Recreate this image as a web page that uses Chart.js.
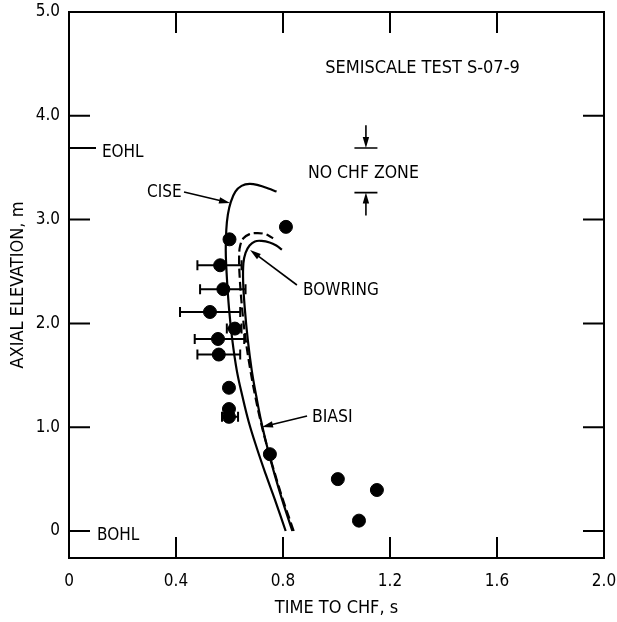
<!DOCTYPE html>
<html><head><meta charset="utf-8">
<script src="https://cdn.jsdelivr.net/npm/chart.js@4/dist/chart.umd.min.js"></script>
<style>html,body{margin:0;padding:0;background:#fff;}canvas{display:block;}</style>
</head><body>
<canvas id="c" width="617" height="622"></canvas>
<script>
// ---- data ----
const xTickValues = [0, 0.4, 0.8, 1.2, 1.6, 2.0];
const xTickLabels = ['0', '0.4', '0.8', '1.2', '1.6', '2.0'];
const yTickValues = [0, 1, 2, 3, 4, 5];
const yTickLabels = ['0', '1.0', '2.0', '3.0', '4.0', '5.0'];

const measuredTime = [0.600, 0.811, 0.565, 0.577, 0.527, 0.620, 0.557, 0.560, 0.598, 0.598, 0.598, 0.751, 1.005, 1.151, 1.084];
const measuredElev = [2.81, 2.93, 2.56, 2.33, 2.11, 1.95, 1.85, 1.70, 1.38, 1.175, 1.10, 0.74, 0.50, 0.395, 0.10];
const errLow  = [null, null, 0.48, 0.49, 0.415, 0.59, 0.47, 0.48, null, null, 0.572, null, null, null, null];
const errHigh = [null, null, 0.645, 0.66, 0.64, 0.645, 0.655, 0.64, null, null, 0.632, null, null, null, null];

const ciseTime = [0.810, 0.770, 0.735, 0.702, 0.672, 0.648, 0.627, 0.610, 0.598, 0.590, 0.586, 0.588, 0.594, 0.605, 0.622, 0.645, 0.675, 0.710, 0.745, 0.776];
const ciseElev = [0.00, 0.30, 0.55, 0.80, 1.05, 1.30, 1.55, 1.85, 2.15, 2.45, 2.70, 2.90, 3.05, 3.17, 3.27, 3.325, 3.345, 3.33, 3.30, 3.27];

const bowringTime = [0.835, 0.797, 0.768, 0.742, 0.719, 0.700, 0.683, 0.668, 0.657, 0.651, 0.652, 0.660, 0.675, 0.695, 0.720, 0.750, 0.775, 0.796];
const bowringElev = [0.00, 0.30, 0.55, 0.80, 1.05, 1.30, 1.55, 1.85, 2.15, 2.40, 2.58, 2.68, 2.75, 2.79, 2.795, 2.78, 2.75, 2.71];

const biasiTime = [0.840, 0.800, 0.770, 0.742, 0.717, 0.696, 0.678, 0.660, 0.647, 0.638, 0.636, 0.640, 0.652, 0.675, 0.700, 0.727, 0.747, 0.763];
const biasiElev = [0.00, 0.30, 0.55, 0.80, 1.05, 1.30, 1.55, 1.85, 2.15, 2.45, 2.65, 2.75, 2.82, 2.86, 2.87, 2.865, 2.845, 2.82];

const eohlElev = 3.69;

// ---- annotation layout (data coordinates) ----
const FONT = "'DejaVu Sans Condensed', 'DejaVu Sans', sans-serif";
const labels = [
  {text: 'SEMISCALE TEST S-07-9', x: 1.3215, y: 4.46, align: 'center', size: 18},
  {text: 'EOHL', x: 0.123, y: 3.65, align: 'left', size: 17},
  {text: 'BOHL', x: 0.105, y: -0.04, align: 'left', size: 17},
  {text: 'CISE', x: 0.292, y: 3.26, align: 'left', size: 17},
  {text: 'NO CHF ZONE', x: 0.893, y: 3.44, align: 'left', size: 17.5},
  {text: 'BOWRING', x: 0.875, y: 2.32, align: 'left', size: 17},
  {text: 'BIASI', x: 0.908, y: 1.098, align: 'left', size: 17.5}
];
const arrows = [
  {x1: 0.43, y1: 3.266, x2: 0.602, y2: 3.16},
  {x1: 0.852, y1: 2.37, x2: 0.677, y2: 2.707},
  {x1: 0.89, y1: 1.108, x2: 0.7215, y2: 1.002}
];
const zoneX = 1.11, zoneTop = 3.69, zoneBottom = 3.26, zoneStem = 0.22, zoneBarHalf = 0.043;

function drawArrow(ctx, x1, y1, x2, y2) {
  const a = Math.atan2(y2 - y1, x2 - x1);
  const L = 11, W = 3.2;
  ctx.beginPath(); ctx.moveTo(x1, y1); ctx.lineTo(x2 - Math.cos(a) * 4, y2 - Math.sin(a) * 4); ctx.stroke();
  ctx.beginPath();
  ctx.moveTo(x2, y2);
  ctx.lineTo(x2 - L * Math.cos(a) + W * Math.sin(a), y2 - L * Math.sin(a) - W * Math.cos(a));
  ctx.lineTo(x2 - L * Math.cos(a) - W * Math.sin(a), y2 - L * Math.sin(a) + W * Math.cos(a));
  ctx.closePath(); ctx.fill();
}

const decor = {
  id: 'decor',
  beforeDatasetsDraw(chart) {
    const {ctx, scales: {x, y}} = chart;
    ctx.save();
    ctx.strokeStyle = '#000'; ctx.lineWidth = 2;
    for (let i = 0; i < measuredTime.length; i++) {
      if (errLow[i] == null) continue;
      const py = y.getPixelForValue(measuredElev[i]);
      const a = x.getPixelForValue(errLow[i]), b = x.getPixelForValue(errHigh[i]);
      ctx.beginPath();
      ctx.moveTo(a, py); ctx.lineTo(b, py);
      ctx.moveTo(a, py - 5); ctx.lineTo(a, py + 5);
      ctx.moveTo(b, py - 5); ctx.lineTo(b, py + 5);
      ctx.stroke();
    }
    ctx.restore();
  },
  afterDraw(chart) {
    const {ctx, chartArea: ca, scales: {x, y}} = chart;
    ctx.save();
    ctx.strokeStyle = '#000'; ctx.fillStyle = '#000';
    ctx.lineWidth = 2;
    ctx.strokeRect(ca.left, ca.top, ca.right - ca.left, ca.bottom - ca.top);
    const T = 21;
    ctx.beginPath();
    xTickValues.forEach(v => {
      if (v <= x.min || v >= x.max) return;
      const px = x.getPixelForValue(v);
      ctx.moveTo(px, ca.bottom); ctx.lineTo(px, ca.bottom - T);
      ctx.moveTo(px, ca.top); ctx.lineTo(px, ca.top + T);
    });
    yTickValues.forEach(v => {
      if (v >= y.max) return;
      const py = y.getPixelForValue(v);
      ctx.moveTo(ca.left, py); ctx.lineTo(ca.left + T, py);
      ctx.moveTo(ca.right, py); ctx.lineTo(ca.right - T, py);
    });
    const pe = y.getPixelForValue(eohlElev);
    ctx.moveTo(ca.left, pe); ctx.lineTo(ca.left + 27, pe);
    ctx.stroke();
    ctx.lineWidth = 1.6;
    arrows.forEach(a => drawArrow(ctx, x.getPixelForValue(a.x1), y.getPixelForValue(a.y1), x.getPixelForValue(a.x2), y.getPixelForValue(a.y2)));
    const zx = x.getPixelForValue(zoneX);
    const zb1 = x.getPixelForValue(zoneX - zoneBarHalf), zb2 = x.getPixelForValue(zoneX + zoneBarHalf);
    const yt = y.getPixelForValue(zoneTop), yb = y.getPixelForValue(zoneBottom);
    ctx.beginPath(); ctx.moveTo(zb1, yt); ctx.lineTo(zb2, yt); ctx.moveTo(zb1, yb); ctx.lineTo(zb2, yb); ctx.stroke();
    drawArrow(ctx, zx, y.getPixelForValue(zoneTop + zoneStem), zx, yt);
    drawArrow(ctx, zx, y.getPixelForValue(zoneBottom - zoneStem), zx, yb);
    ctx.textBaseline = 'middle';
    labels.forEach(l => {
      ctx.font = l.size + 'px ' + FONT;
      ctx.textAlign = l.align;
      ctx.fillText(l.text, x.getPixelForValue(l.x), y.getPixelForValue(l.y));
    });
    ctx.restore();
  }
};

const toPts = (xs, ys) => xs.map((v, i) => ({x: v, y: ys[i]}));

new Chart(document.getElementById('c'), {
  type: 'scatter',
  data: {
    datasets: [
      {label: 'Measured', data: toPts(measuredTime, measuredElev), backgroundColor: '#000', borderColor: '#000', pointRadius: 6.5, pointHoverRadius: 6.5, order: 0},
      {label: 'CISE', data: toPts(ciseTime, ciseElev), showLine: true, borderColor: '#000', borderWidth: 2.2, pointRadius: 0, tension: 0.4, fill: false, order: 1},
      {label: 'BOWRING', data: toPts(bowringTime, bowringElev), showLine: true, borderColor: '#000', borderWidth: 2.2, pointRadius: 0, tension: 0.4, fill: false, order: 1},
      {label: 'BIASI', data: toPts(biasiTime, biasiElev), showLine: true, borderColor: '#000', borderWidth: 2.2, borderDash: [9, 4], pointRadius: 0, tension: 0.4, fill: false, order: 1}
    ]
  },
  options: {
    responsive: false,
    animation: false,
    devicePixelRatio: 1,
    layout: {padding: {top: 12, right: 13, left: 0, bottom: 0}},
    plugins: {legend: {display: false}, tooltip: {enabled: false}},
    scales: {
      x: {
        type: 'linear', position: 'bottom', min: 0, max: 2,
        grid: {display: false, drawTicks: false},
        border: {display: false},
        afterBuildTicks: s => { s.ticks = xTickValues.map(v => ({value: v})); },
        afterFit: s => { s.height = 64; s.paddingLeft = 0; s.paddingRight = 0; },
        ticks: {
          padding: 13, color: '#000', font: {family: FONT, size: 17},
          maxRotation: 0, autoSkip: false,
          callback: v => { const i = xTickValues.indexOf(v); return i >= 0 ? xTickLabels[i] : ''; }
        },
        title: {display: true, text: 'TIME TO CHF, s', color: '#000', font: {family: FONT, size: 18}, padding: {top: 0, bottom: 3}}
      },
      y: {
        type: 'linear', position: 'left', min: -0.26, max: 5,
        grid: {display: false, drawTicks: false},
        border: {display: false},
        afterBuildTicks: s => { s.ticks = yTickValues.map(v => ({value: v})); },
        afterFit: s => { s.width = 69; s.paddingTop = 0; s.paddingBottom = 0; },
        ticks: {
          padding: 9, color: '#000', font: {family: FONT, size: 17}, autoSkip: false,
          callback: v => { const i = yTickValues.indexOf(v); return i >= 0 ? yTickLabels[i] : ''; }
        },
        title: {display: true, text: 'AXIAL ELEVATION, m', color: '#000', font: {family: FONT, size: 18}, padding: {top: 8, bottom: 0}}
      }
    }
  },
  plugins: [decor]
});
</script>
</body></html>
